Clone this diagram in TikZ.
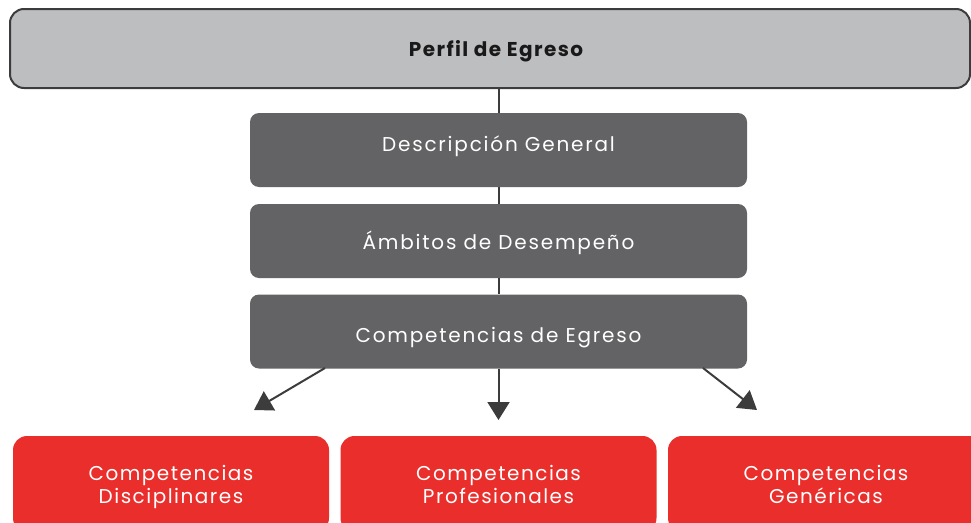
\documentclass[tikz,border=0pt]{standalone}
\usepackage{fontspec}
\setmainfont{Poppins}
\newfontfamily\spaced[LetterSpace=9]{Poppins}
\newfontfamily\redspaced[LetterSpace=7.5]{Poppins}
\newfontfamily\spacedbold[LetterSpace=7]{Poppins}
\usetikzlibrary{arrows.meta}
\definecolor{titlegray}{HTML}{BDBEC0}
\definecolor{boxgray}{HTML}{636365}
\definecolor{linegray}{HTML}{3C3C3C}
\definecolor{boxred}{HTML}{E92E2B}
\begin{document}
\begin{tikzpicture}[x=1pt,y=-1pt,
  titlebox/.style={draw=linegray,line width=2pt,fill=titlegray,rounded corners=14pt,
    minimum width=960pt,minimum height=79pt,text height=16pt,text depth=0pt,
    text=black!90,font=\spacedbold\fontsize{20}{22}\selectfont\bfseries},
  stepbox/.style={fill=boxgray,rounded corners=9pt,minimum width=497pt,minimum height=74pt,
    text height=8pt,text depth=6pt,text=white,font=\spaced\fontsize{20}{22}\selectfont},
  redbox/.style={fill=boxred,rounded corners=14pt,minimum width=316pt,minimum height=96pt,
    text height=38pt,text depth=0pt,text=white,align=center,
    font=\redspaced\fontsize{20}{23}\selectfont},
  link/.style={draw=linegray,line width=2pt},
  arr/.style={link,-{Triangle[length=18pt,width=22pt]}}]
\useasboundingbox (0,0) rectangle (971,522);
\clip (0,0) rectangle (971,522);
\node[titlebox] (perfil) at (490,48.5) {\hspace*{12pt}Perfil de Egreso};
\node[stepbox] (desc) at (498.5,150) {Descripción General};
\node[stepbox,text height=16pt,text depth=0pt] (ambitos) at (498.5,241) {Ámbitos de Desempeño};
\node[stepbox,text height=22pt,text depth=0pt] (comp) at (498.5,331.5) {Competencias de Egreso};
\node[redbox] (disc) at (171,484) {Competencias\\Disciplinares};
\node[redbox] (prof) at (498.5,484) {Competencias\\Profesionales};
\node[redbox] (gen) at (826,484) {Competencias\\Genéricas};
\coordinate (lfrom) at (325,368);
\coordinate (lto) at (254,410);
\coordinate (mto) at (498.5,420);
\coordinate (rfrom) at (703,368);
\coordinate (rto) at (757,410);
\draw[link] (perfil.south -| desc.north) -- (desc.north)
  (desc.south) -- (ambitos.north)
  (ambitos.south) -- (comp.north);
\draw[arr] (lfrom) -- (lto);
\draw[arr] (comp.south) -- (mto);
\draw[arr] (rfrom) -- (rto);
\end{tikzpicture}
\end{document}
